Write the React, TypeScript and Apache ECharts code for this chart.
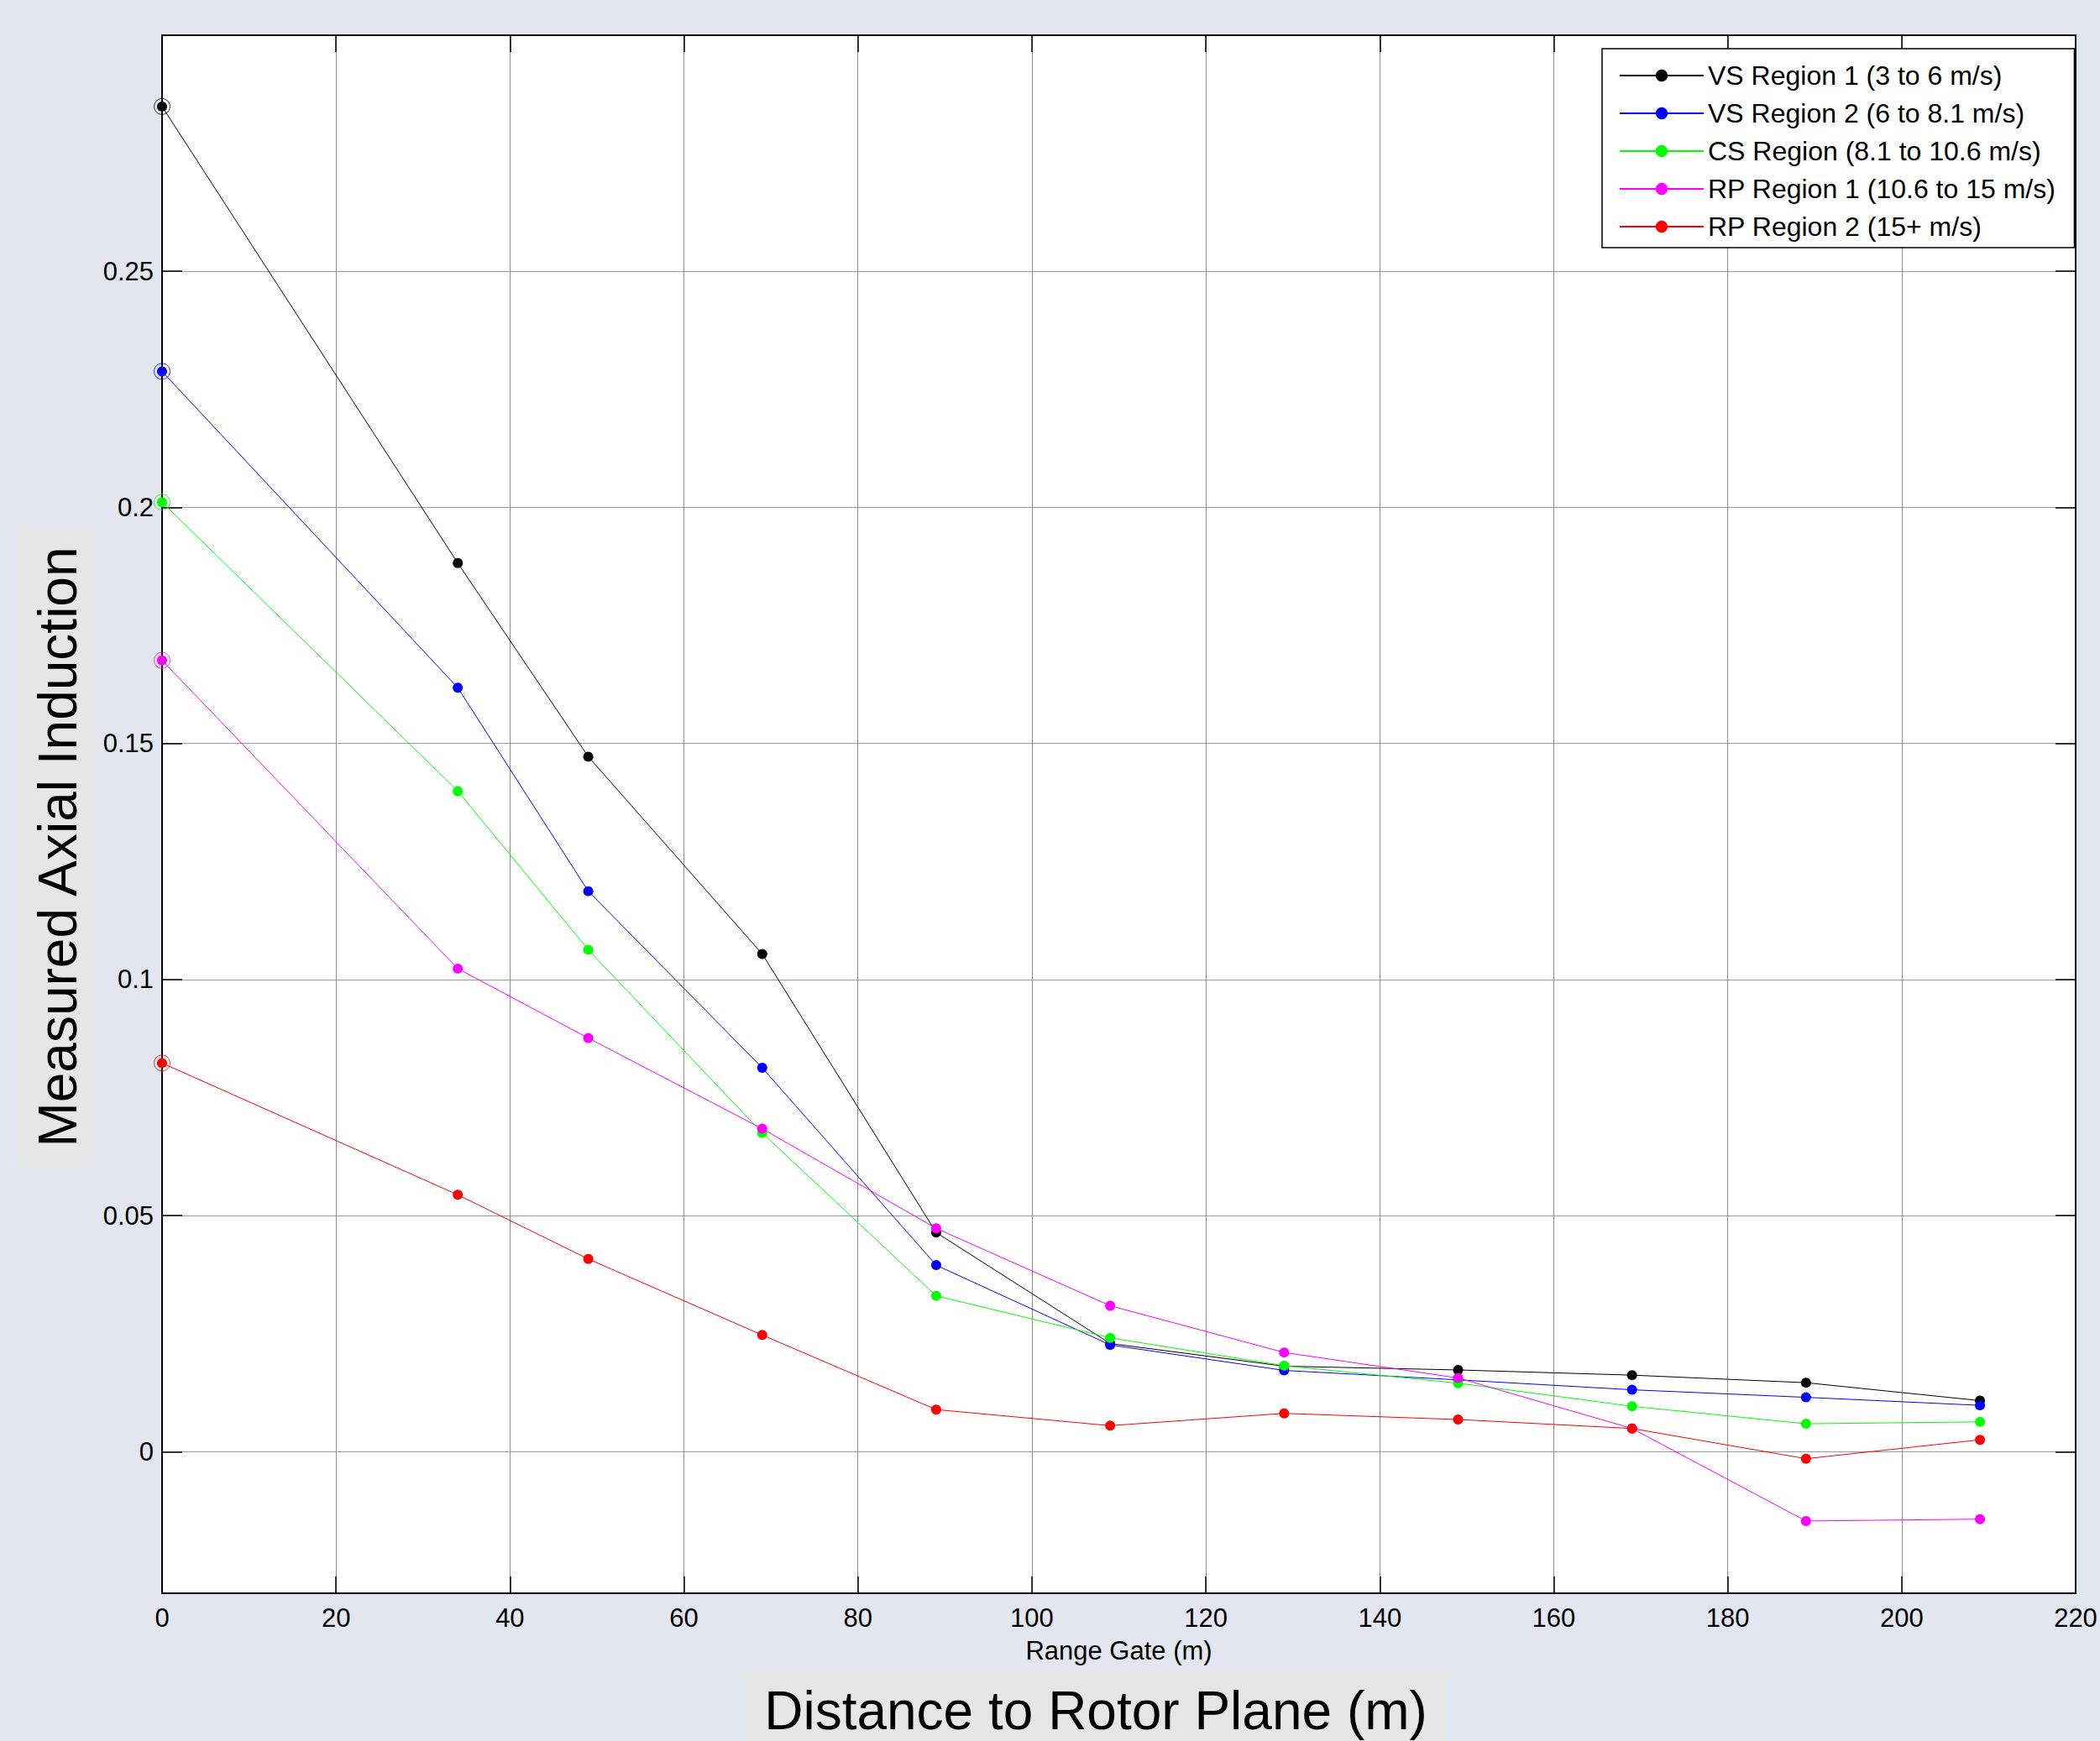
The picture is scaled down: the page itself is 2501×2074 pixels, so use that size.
import React, { useEffect, useRef } from "react";
import * as echarts from "echarts";

const rangeGates = [0, 34, 49, 69, 89, 109, 129, 149, 169, 189, 209];
const vsRegion1 = [0.2849, 0.1882, 0.1472, 0.1054, 0.0464, 0.0229, 0.0181, 0.0173, 0.0162, 0.0146, 0.0108];
const vsRegion2 = [0.2288, 0.1618, 0.1187, 0.0813, 0.0395, 0.0226, 0.0172, 0.0152, 0.0131, 0.0115, 0.0098];
const csRegion = [0.2011, 0.1399, 0.1063, 0.0675, 0.033, 0.0241, 0.0182, 0.0145, 0.0096, 0.0059, 0.0063];
const rpRegion1 = [0.1676, 0.1023, 0.0876, 0.0684, 0.0473, 0.0309, 0.021, 0.0156, 0.0049, -0.0147, -0.0143];
const rpRegion2 = [0.0823, 0.0544, 0.0408, 0.0247, 0.0089, 0.0055, 0.0081, 0.0068, 0.0049, -0.0015, 0.0025];

const seriesNames = [
  "VS Region 1 (3 to 6 m/s)",
  "VS Region 2 (6 to 8.1 m/s)",
  "CS Region (8.1 to 10.6 m/s)",
  "RP Region 1 (10.6 to 15 m/s)",
  "RP Region 2 (15+ m/s)",
];
const seriesValues = [vsRegion1, vsRegion2, csRegion, rpRegion1, rpRegion2];
const seriesColors = ["#000000", "#0000ff", "#00ff00", "#ff00ff", "#ff0000"];

const xMin = 0;
const xMax = 220;
const xInterval = 20;
const yMin = -0.03;
const yMax = 0.3;

const xAxisTitle = "Range Gate (m)";
const outerXTitle = "Distance to Rotor Plane (m)";
const outerYTitle = "Measured Axial Induction";

const FONT = '"Liberation Sans", Arial, Helvetica, sans-serif';

export default function App() {
  const ref = useRef<HTMLDivElement>(null);

  useEffect(() => {
    if (!ref.current) return;
    const chart = echarts.init(ref.current, null, { renderer: "svg" });

    const lineSeries = seriesNames.map((name, i) => ({
      name,
      type: "line",
      xAxisIndex: 0,
      yAxisIndex: 0,
      data: rangeGates.map((x, j) => [x, seriesValues[i][j]]),
      symbol: "circle",
      symbolSize: 12,
      showSymbol: true,
      clip: false,
      lineStyle: { color: seriesColors[i], width: 1 },
      itemStyle: { color: seriesColors[i] },
      emphasis: { disabled: true },
      z: 3 + i,
    }));

    const ringSeries = seriesNames.map((name, i) => ({
      name: name + " start",
      type: "scatter",
      xAxisIndex: 0,
      yAxisIndex: 0,
      data: [[rangeGates[0], seriesValues[i][0]]],
      symbol: "circle",
      symbolSize: 19,
      clip: false,
      itemStyle: { color: "rgba(0,0,0,0)", borderColor: seriesColors[i], borderWidth: 1 },
      emphasis: { disabled: true },
      z: 3 + i,
    }));

    const option: any = {
      animation: false,
      backgroundColor: "#e3e6ee",
      textStyle: { fontFamily: FONT },
      grid: {
        left: 193,
        top: 42,
        right: 29,
        bottom: 176,
        show: true,
        backgroundColor: "#ffffff",
        borderWidth: 0,
      },
      legend: {
        data: seriesNames,
        orient: "vertical",
        left: 1908,
        top: 58,
        padding: [16, 22, 9, 20],
        itemGap: 13,
        itemWidth: 100,
        itemHeight: 18,
        backgroundColor: "#ffffff",
        borderColor: "#000000",
        borderWidth: 1.5,
        borderRadius: 0,
        textStyle: { fontFamily: FONT, fontSize: 32, color: "#000000" },
        selectedMode: false,
      },
      xAxis: [
        {
          type: "value",
          min: xMin,
          max: xMax,
          interval: xInterval,
          position: "bottom",
          name: xAxisTitle,
          nameLocation: "middle",
          nameGap: 53,
          nameTextStyle: { fontFamily: FONT, fontSize: 31, color: "#000000" },
          axisLine: { show: true, onZero: false, lineStyle: { color: "#000000", width: 2 } },
          axisTick: { show: true, inside: true, length: 20, lineStyle: { color: "#000000", width: 1.5 } },
          axisLabel: { fontFamily: FONT, fontSize: 31, color: "#000000", margin: 14 },
          splitLine: { show: true, lineStyle: { color: "#8c8c8c", width: 1 } },
        },
        {
          type: "value",
          min: xMin,
          max: xMax,
          interval: xInterval,
          position: "top",
          axisLine: { show: true, onZero: false, lineStyle: { color: "#000000", width: 2 } },
          axisTick: { show: true, inside: true, length: 20, lineStyle: { color: "#000000", width: 1.5 } },
          axisLabel: { show: false },
          splitLine: { show: false },
        },
      ],
      yAxis: [
        {
          type: "value",
          min: yMin,
          max: yMax,
          splitNumber: 6,
          position: "left",
          axisLine: { show: true, onZero: false, lineStyle: { color: "#000000", width: 2 } },
          axisTick: { show: true, inside: true, length: 24, lineStyle: { color: "#000000", width: 1.5 } },
          axisLabel: {
            fontFamily: FONT,
            fontSize: 31,
            color: "#000000",
            margin: 10,
            showMinLabel: false,
            showMaxLabel: false,
          },
          splitLine: { show: true, lineStyle: { color: "#9a9a9a", width: 1 } },
        },
        {
          type: "value",
          min: yMin,
          max: yMax,
          splitNumber: 6,
          position: "right",
          axisLine: { show: true, onZero: false, lineStyle: { color: "#000000", width: 2 } },
          axisTick: { show: true, inside: true, length: 24, lineStyle: { color: "#000000", width: 1.5 } },
          axisLabel: { show: false },
          splitLine: { show: false },
        },
      ],
      graphic: [
        {
          type: "rect",
          shape: { x: 19, y: 630, width: 93, height: 758 },
          style: { fill: "#e6e6e6" },
          z: 0,
        },
        {
          type: "text",
          x: 69,
          y: 1009,
          rotation: Math.PI / 2,
          style: {
            text: outerYTitle,
            font: `64px ${FONT}`,
            fill: "#000000",
            textAlign: "center",
            textVerticalAlign: "middle",
            align: "center",
            verticalAlign: "middle",
          },
          z: 1,
        },
        {
          type: "rect",
          shape: { x: 887, y: 1991, width: 836, height: 83 },
          style: { fill: "#e6e6e6" },
          z: 0,
        },
        {
          type: "text",
          x: 1305,
          y: 2038,
          style: {
            text: outerXTitle,
            font: `64px ${FONT}`,
            fill: "#000000",
            textAlign: "center",
            textVerticalAlign: "middle",
            align: "center",
            verticalAlign: "middle",
          },
          z: 1,
        },
      ],
      series: [...lineSeries, ...ringSeries],
    };

    chart.setOption(option);
    return () => {
      chart.dispose();
    };
  }, []);

  return (
    <div
      ref={ref}
      style={{ position: "fixed", left: 0, top: 0, width: 2501, height: 2074 }}
    />
  );
}
